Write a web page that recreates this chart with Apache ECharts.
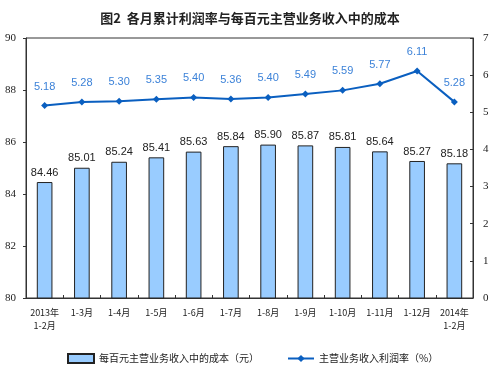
<!DOCTYPE html>
<html>
<head>
<meta charset="utf-8">
<script src="https://cdn.jsdelivr.net/npm/echarts@6/dist/echarts.min.js"></script>
<style>
html,body{margin:0;padding:0;background:#fff;}
#main{width:500px;height:377px;}
</style>
</head>
<body>
<div id="main"></div>
<script>
var myChart = echarts.init(document.getElementById('main'));

var months = ['2013年\n1-2月', '1-3月', '1-4月', '1-5月', '1-6月', '1-7月', '1-8月', '1-9月', '1-10月', '1-11月', '1-12月', '2014年\n1-2月'];
var costPer100 = [84.46, 85.01, 85.24, 85.41, 85.63, 85.84, 85.90, 85.87, 85.81, 85.64, 85.27, 85.18];
var profitRate = [5.18, 5.28, 5.30, 5.35, 5.40, 5.36, 5.40, 5.49, 5.59, 5.77, 6.11, 5.28];

var font = '"Noto Sans CJK SC", "DejaVu Sans", sans-serif';

var option = {
    backgroundColor: '#fff',
    title: {
        text: '图2  各月累计利润率与每百元主营业务收入中的成本',
        left: 'center',
        top: 7,
        textStyle: {color: '#222', fontSize: 13, fontWeight: 'bold', fontFamily: font}
    },
    legend: {
        bottom: 8,
        left: 62,
        itemGap: 28,
        itemWidth: 26,
        itemHeight: 9,
        textStyle: {color: '#222', fontSize: 10, fontFamily: font},
        data: [
            {name: '每百元主营业务收入中的成本（元）', icon: 'rect'},
            '主营业务收入利润率（%）'
        ]
    },
    grid: {
        left: 26,
        right: 27,
        top: 38,
        bottom: 79,
        show: true,
        borderColor: '#333',
        borderWidth: 1
    },
    xAxis: {
        type: 'category',
        data: months,
        axisLine: {lineStyle: {color: '#333'}},
        axisTick: {show: true, inside: true, length: 3, lineStyle: {color: '#333'}},
        axisLabel: {color: '#222', fontSize: 9, fontFamily: font, lineHeight: 13, margin: 8, interval: 0}
    },
    yAxis: [
        {
            type: 'value',
            min: 80,
            max: 90,
            interval: 2,
            position: 'left',
            splitLine: {show: false},
            axisLine: {show: true, lineStyle: {color: '#333'}},
            axisTick: {show: true, length: 3, lineStyle: {color: '#333'}},
            axisLabel: {color: '#222', fontSize: 11, fontFamily: '"Liberation Serif", serif', margin: 10}
        },
        {
            type: 'value',
            min: 0,
            max: 7,
            interval: 1,
            position: 'right',
            splitLine: {show: false},
            axisLine: {show: true, lineStyle: {color: '#333'}},
            axisTick: {show: true, inside: true, length: 3, lineStyle: {color: '#333'}},
            axisLabel: {color: '#222', fontSize: 11, fontFamily: '"Liberation Serif", serif', margin: 10}
        }
    ],
    series: [
        {
            name: '每百元主营业务收入中的成本（元）',
            type: 'bar',
            yAxisIndex: 0,
            barWidth: '42%',
            data: costPer100,
            itemStyle: {color: '#99CCFF', borderColor: '#222', borderWidth: 1},
            label: {
                show: true,
                position: 'top',
                distance: 4,
                color: '#222',
                fontSize: 11,
                fontFamily: '"Liberation Sans", Arial, sans-serif',
                formatter: function (p) { return p.value.toFixed(2); }
            }
        },
        {
            name: '主营业务收入利润率（%）',
            type: 'line',
            yAxisIndex: 1,
            data: profitRate,
            symbol: 'diamond',
            symbolSize: 7,
            lineStyle: {color: '#0A5FC0', width: 2},
            itemStyle: {color: '#0A5FC0'},
            label: {
                show: true,
                position: 'top',
                distance: 10,
                color: '#3C82D8',
                fontSize: 11,
                fontFamily: '"Liberation Sans", Arial, sans-serif',
                formatter: function (p) { return p.value.toFixed(2); }
            }
        }
    ]
};

myChart.setOption(option);
</script>
</body>
</html>
